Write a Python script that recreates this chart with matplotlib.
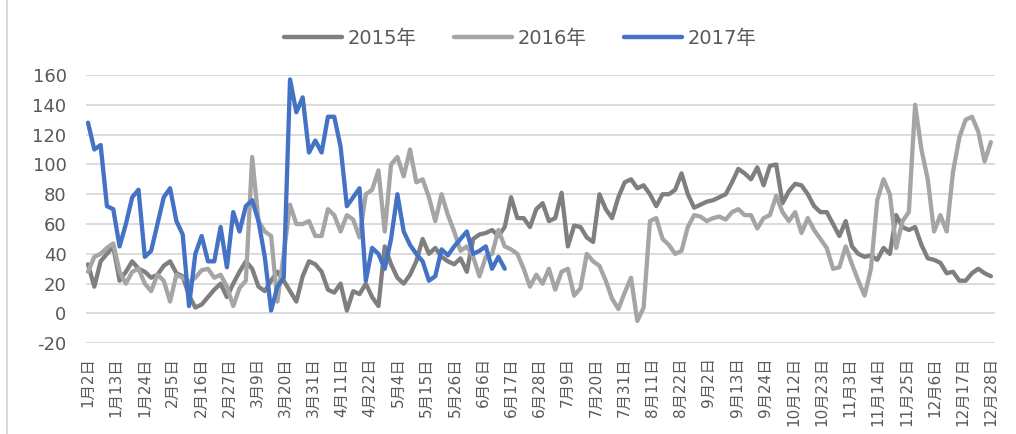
import matplotlib
matplotlib.use('Agg')
import matplotlib.pyplot as plt
import numpy as np
from matplotlib.lines import Line2D

plt.rcParams['font.family'] = ['DejaVu Sans', 'Noto Sans CJK SC']
plt.rcParams['axes.unicode_minus'] = False

# ---------------- data ----------------
tick_labels = ['1月2日', '1月13日', '1月24日', '2月5日', '2月16日', '2月27日', '3月9日',
               '3月20日', '3月31日', '4月11日', '4月22日', '5月4日', '5月15日', '5月26日',
               '6月6日', '6月17日', '6月28日', '7月9日', '7月20日', '7月31日', '8月11日',
               '8月22日', '9月2日', '9月13日', '9月24日', '10月12日', '10月23日', '11月3日',
               '11月14日', '11月25日', '12月6日', '12月17日', '12月28日']
series_names = ['2015年', '2016年', '2017年']

y2015 = [33, 18, 35, 40, 45, 22, 28, 35, 30, 28,
         24, 26, 32, 35, 27, 25, 12, 4, 6, 11,
         16, 20, 11, 20, 28, 35, 30, 18, 15, 22,
         28, 22, 15, 8, 25, 35, 33, 28, 16, 14,
         20, 2, 15, 13, 20, 11, 5, 45, 33, 24,
         20, 26, 35, 50, 40, 44, 38, 35, 33, 37,
         28, 50, 53, 54, 56, 52, 58, 78, 64, 64,
         58, 70, 74, 62, 64, 81, 45, 59, 58, 51,
         48, 80, 70, 64, 78, 88, 90, 84, 86, 80,
         72, 80, 80, 83, 94, 80, 71, 73, 75, 76,
         78, 80, 88, 97, 94, 90, 98, 86, 99, 100,
         74, 82, 87, 86, 80, 72, 68, 68, 60, 52,
         62, 45, 40, 38, 39, 36, 44, 40, 66, 58,
         56, 58, 46, 37, 36, 34, 27, 28, 22, 22,
         27, 30, 27, 25]

y2016 = [28, 38, 40, 44, 47, 28, 20, 28, 30, 20,
         15, 26, 22, 8, 26, 24, 21, 24, 29, 30,
         24, 26, 18, 5, 17, 22, 105, 62, 55, 52,
         8, 40, 73, 60, 60, 62, 52, 52, 70, 66,
         55, 66, 63, 51, 80, 83, 96, 55, 100, 105,
         92, 110, 88, 90, 78, 62, 80, 66, 55, 42,
         45, 38, 25, 38, 40, 56, 45, 43, 40, 30,
         18, 26, 20, 30, 16, 28, 30, 12, 17, 40,
         35, 32, 22, 10, 3, 14, 24, -5, 4, 62,
         64, 50, 46, 40, 42, 58, 66, 65, 62, 64,
         65, 63, 68, 70, 66, 66, 57, 64, 66, 79,
         68, 62, 68, 54, 64, 56, 50, 44, 30, 31,
         45, 33, 22, 12, 30, 76, 90, 80, 44, 62,
         68, 140, 110, 90, 55, 66, 55, 95, 118, 130,
         132, 122, 102, 115]

y2017 = [128, 110, 113, 72, 70, 45, 60, 78, 83, 38,
         42, 60, 78, 84, 62, 53, 5, 40, 52, 35,
         35, 58, 31, 68, 55, 72, 76, 62, 38, 2,
         18, 24, 157, 135, 145, 108, 116, 108, 132, 132,
         112, 72, 78, 84, 22, 44, 40, 30, 50, 80,
         55, 46, 40, 35, 22, 25, 43, 39, 45, 50,
         55, 40, 42, 45, 30, 38, 30]

# ---------------- layout ----------------
N_CAT = 354          # number of daily categories on the axis
TICK_EVERY = 11      # a label every 11 categories
LAST_LABEL = TICK_EVERY * (len(tick_labels) - 1)
step = LAST_LABEL / (len(y2015) - 1)   # categories between readings

colors = ['#7f7f7f', '#a5a5a5', '#4472c4']
W, H = 1016, 434
fig = plt.figure(figsize=(W / 100, H / 100), dpi=100)
fig.patch.set_facecolor('white')
ax = fig.add_axes([86 / W, 1 - 343.3 / H, (995 - 86) / W, (343.3 - 75) / H])

for vals, name, col in zip([y2015, y2016, y2017], series_names, colors):
    xs = np.arange(len(vals)) * step
    ax.plot(xs, vals, color=col, lw=3.1, label=name,
            solid_joinstyle='round', solid_capstyle='round', zorder=3)

ax.set_xlim(-0.78, 353.6)
ax.set_ylim(-20, 160)
ax.set_yticks(np.arange(-20, 161, 20))
ax.yaxis.grid(True, color='#d9d9d9', lw=1.3)
ax.xaxis.grid(False)
ax.set_axisbelow(True)
for s in ax.spines.values():
    s.set_visible(False)
ax.tick_params(axis='both', length=0)
ax.tick_params(axis='y', labelsize=13, colors='#595959', pad=14)
ax.set_xticks(np.arange(0, LAST_LABEL + 1, TICK_EVERY))
ax.set_xticklabels(tick_labels, rotation=90, fontsize=11, color='#595959')
ax.tick_params(axis='x', pad=10)

leg = fig.legend(loc='center', bbox_to_anchor=(0.512, 0.912), ncol=3, frameon=False,
                 fontsize=14, handlelength=3.0, handletextpad=0.3, columnspacing=1.9,
                 labelcolor='#595959')
for line in leg.get_lines():
    line.set_linewidth(3.2)
    line.set_solid_capstyle('round')

fig.add_artist(Line2D([7 / W, 7 / W], [0, 1], transform=fig.transFigure,
                      color='#d9d9d9', lw=1.5))

fig.savefig('out.png', dpi=100, facecolor='white')
